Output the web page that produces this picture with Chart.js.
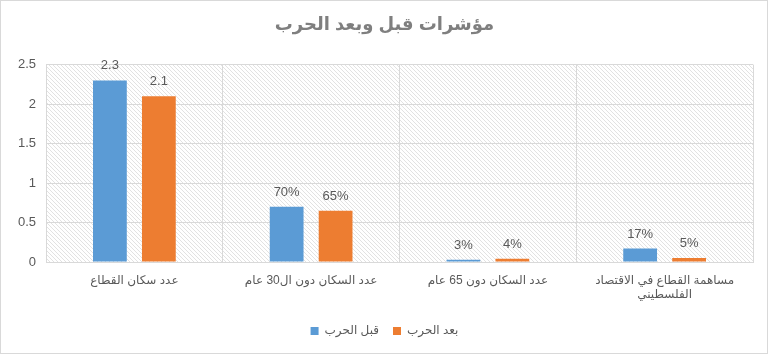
<!DOCTYPE html>
<html>
<head>
<meta charset="utf-8">
<script src="https://cdn.jsdelivr.net/npm/chart.js@4.4.0/dist/chart.umd.min.js"></script>
<style>
  html, body { margin: 0; padding: 0; background: #fff; }
  #wrap { width: 766px; height: 352px; border: 1px solid #d9d9d9; position: relative; }
</style>
</head>
<body>
<div id="wrap"><canvas id="c" width="766" height="352"></canvas></div>
<script>
const categories = [
  'عدد سكان القطاع',
  'عدد السكان دون ال30 عام',
  'عدد السكان دون 65 عام',
  ['مساهمة القطاع في الاقتصاد', 'الفلسطيني']
];
const seriesNames = ['قبل الحرب', 'بعد الحرب'];
const beforeWar = [2.3, 0.70, 0.03, 0.17];
const afterWar = [2.1, 0.65, 0.04, 0.05];
const beforeLabels = ['2.3', '70%', '3%', '17%'];
const afterLabels = ['2.1', '65%', '4%', '5%'];
const yTicks = [0, 0.5, 1, 1.5, 2, 2.5];
const yTickLabels = ['0', '0.5', '1', '1.5', '2', '2.5'];

const FONT = "'Liberation Sans', 'DejaVu Sans', sans-serif";
const GRAY = '#595959';

function makeHatch() {
  const p = 4;
  const c = document.createElement('canvas');
  c.width = p; c.height = p;
  const g = c.getContext('2d');
  g.fillStyle = '#ffffff';
  g.fillRect(0, 0, p, p);
  g.strokeStyle = '#e2e2e2';
  g.lineWidth = 1;
  g.beginPath();
  g.moveTo(-1, -1); g.lineTo(p + 1, p + 1);
  g.moveTo(-1, p - 1); g.lineTo(1, p + 1);
  g.moveTo(p - 1, -1); g.lineTo(p + 1, 1);
  g.stroke();
  return c;
}

const hatchPlugin = {
  id: 'hatch',
  beforeDraw(chart) {
    const { ctx, chartArea: a } = chart;
    ctx.save();
    ctx.fillStyle = ctx.createPattern(makeHatch(), 'repeat');
    ctx.fillRect(a.left, a.top, a.right - a.left, a.bottom - a.top);
    ctx.restore();
  }
};

const labelPlugin = {
  id: 'valueLabels',
  afterDatasetsDraw(chart) {
    const { ctx } = chart;
    const texts = [beforeLabels, afterLabels];
    ctx.save();
    ctx.font = '13px ' + FONT;
    ctx.fillStyle = GRAY;
    ctx.textAlign = 'center';
    ctx.textBaseline = 'bottom';
    chart.data.datasets.forEach((ds, di) => {
      chart.getDatasetMeta(di).data.forEach((el, i) => {
        ctx.fillText(texts[di][i], el.x, el.y - 8);
      });
    });
    ctx.restore();
  }
};

new Chart(document.getElementById('c'), {
  type: 'bar',
  data: {
    labels: categories,
    datasets: [
      { label: seriesNames[0], data: beforeWar, backgroundColor: '#5B9BD5' },
      { label: seriesNames[1], data: afterWar, backgroundColor: '#ED7D31' }
    ]
  },
  options: {
    responsive: false,
    animation: false,
    devicePixelRatio: 1,
    layout: { padding: { left: 15, right: 14, top: 0, bottom: 6 } },
    datasets: { bar: { categoryPercentage: 0.554, barPercentage: 0.69 } },
    plugins: {
      title: {
        display: true,
        text: 'مؤشرات قبل وبعد الحرب',
        color: '#7f7f7f',
        font: { family: FONT, size: 18, weight: 'bold' },
        padding: { top: 13, bottom: 29 }
      },
      legend: {
        position: 'bottom',
        labels: {
          color: GRAY,
          font: { family: FONT, size: 12 },
          boxWidth: 8,
          boxHeight: 8,
          padding: 14
        }
      },
      tooltip: { enabled: false }
    },
    scales: {
      x: {
        grid: { color: '#d9d9d9', drawTicks: false, offset: true },
        border: { color: '#d9d9d9' },
        ticks: { color: GRAY, font: { family: FONT, size: 12 }, padding: 11, maxRotation: 0, autoSkip: false },
        afterFit(s) { s.height = 49; }
      },
      y: {
        min: 0, max: 2.5,
        afterBuildTicks(s) { s.ticks = yTicks.map(v => ({ value: v })); },
        grid: { color: '#d9d9d9', drawTicks: false },
        border: { display: false },
        ticks: {
          color: GRAY, font: { family: FONT, size: 13 }, padding: 10,
          callback: (v, i) => yTickLabels[i]
        },
        afterFit(s) { s.width = 30; }
      }
    }
  },
  plugins: [hatchPlugin, labelPlugin]
});
</script>
</body>
</html>
